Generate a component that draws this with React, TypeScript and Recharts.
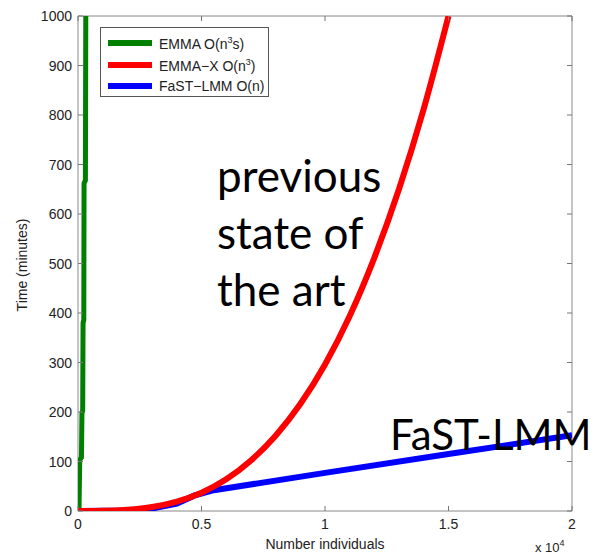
import React from 'react';
import { ComposedChart, Line, XAxis, YAxis, ReferenceArea } from 'recharts';

// EMMA O(n^3 s): shoots up almost immediately, in small steps
const emmaData = [
  { n: 40, t: 0 },
  { n: 70, t: 103 },
  { n: 140, t: 108 },
  { n: 160, t: 198 },
  { n: 190, t: 203 },
  { n: 205, t: 380 },
  { n: 235, t: 386 },
  { n: 245, t: 662 },
  { n: 300, t: 668 },
  { n: 315, t: 1000 },
];

// EMMA-X O(n^3)
const emmaXData = [
  { n: 0, t: 0 },
  { n: 1000, t: 0.3 },
  { n: 2000, t: 2.4 },
  { n: 3000, t: 8 },
  { n: 4000, t: 19 },
  { n: 5000, t: 37 },
  { n: 6000, t: 64 },
  { n: 7000, t: 102 },
  { n: 8000, t: 152 },
  { n: 9000, t: 216 },
  { n: 10000, t: 296 },
  { n: 11000, t: 394 },
  { n: 12000, t: 512 },
  { n: 13000, t: 651 },
  { n: 14000, t: 813 },
  { n: 15000, t: 1000 },
];

// FaST-LMM O(n): hidden under EMMA-X at small n
const fastData = [
  { n: 0, t: 0 },
  { n: 2000, t: 1 },
  { n: 3000, t: 5 },
  { n: 4000, t: 15 },
  { n: 4700, t: 31 },
  { n: 5500, t: 42 },
  { n: 10000, t: 77 },
  { n: 15000, t: 115 },
  { n: 20000, t: 153 },
];

const xTicks = [0, 5000, 10000, 15000, 20000];
const yTicks = [0, 100, 200, 300, 400, 500, 600, 700, 800, 900, 1000];

const GREEN = '#007f00';
const RED = '#ff0000';
const BLUE = '#0000ff';

const LEFT = 78;
const RIGHT = 572;
const TOP = 16;
const BOTTOM = 511;
const TICK_COLOR = '#777';
const FONT = '"Liberation Sans", Arial, sans-serif';

const YTick = (props: any) => {
  const { y, payload } = props;
  return (
    <g>
      <text x={72} y={y} dy={5} textAnchor="end" fontSize={14} fill="#222" fontFamily={FONT}>
        {payload.value}
      </text>
      <line x1={LEFT} x2={LEFT + 5} y1={y} y2={y} stroke={TICK_COLOR} />
      <line x1={RIGHT - 5} x2={RIGHT} y1={y} y2={y} stroke={TICK_COLOR} />
    </g>
  );
};

const XTick = (props: any) => {
  const { x, payload } = props;
  return (
    <g>
      <text x={x} y={529} textAnchor="middle" fontSize={14} fill="#222" fontFamily={FONT}>
        {payload.value / 10000}
      </text>
      <line x1={x} x2={x} y1={BOTTOM} y2={BOTTOM - 5} stroke={TICK_COLOR} />
      <line x1={x} x2={x} y1={TOP} y2={TOP + 5} stroke={TICK_COLOR} />
    </g>
  );
};

const legendItems = [
  { color: GREEN, label: <>EMMA O(n<sup style={{ fontSize: 9 }}>3</sup>s)</> },
  { color: RED, label: <>EMMA−X O(n<sup style={{ fontSize: 9 }}>3</sup>)</> },
  { color: BLUE, label: <>FaST−LMM O(n)</> },
];

const bigText: React.CSSProperties = {
  position: 'absolute',
  fontFamily: 'Lato, "Open Sans", sans-serif',
  color: '#000',
  whiteSpace: 'nowrap',
};

export default function App() {
  return (
    <div style={{ position: 'absolute', left: 0, top: 0, width: 594, height: 554, background: '#fff' }}>
      <ComposedChart width={594} height={554} margin={{ top: TOP, right: 22, left: 18, bottom: 0 }}>
        <XAxis
          type="number"
          dataKey="n"
          domain={[0, 20000]}
          ticks={xTicks}
          height={43}
          axisLine={false}
          tickLine={false}
          tick={<XTick />}
          allowDataOverflow
        />
        <YAxis
          type="number"
          domain={[0, 1000]}
          ticks={yTicks}
          width={60}
          axisLine={false}
          tickLine={false}
          tick={<YTick />}
          allowDataOverflow
        />
        <ReferenceArea x1={0} x2={20000} y1={0} y2={1000} fill="none" stroke="#888" strokeWidth={1} />
        <Line data={emmaData} dataKey="t" stroke={GREEN} strokeWidth={5} dot={false} isAnimationActive={false} type="linear" />
        <Line data={fastData} dataKey="t" stroke={BLUE} strokeWidth={6} dot={false} isAnimationActive={false} type="linear" />
        <Line data={emmaXData} dataKey="t" stroke={RED} strokeWidth={6} dot={false} isAnimationActive={false} type="monotone" />
        <text x={27} y={265} transform="rotate(-90 27 265)" textAnchor="middle" fontSize={14} fill="#222" fontFamily={FONT}>
          Time (minutes)
        </text>
        <text x={325} y={549} textAnchor="middle" fontSize={14} fill="#222" fontFamily={FONT}>
          Number individuals
        </text>
        <text x={535} y={552} fontSize={13} fill="#222" fontFamily={FONT}>
          x 10<tspan dy={-6} fontSize={9}>4</tspan>
        </text>
      </ComposedChart>

      <div
        style={{
          position: 'absolute',
          left: 100,
          top: 27,
          width: 169,
          height: 70,
          border: '1px solid #555',
          background: '#fff',
          fontFamily: FONT,
          fontSize: 14,
          color: '#222',
          boxSizing: 'border-box',
        }}
      >
        {legendItems.map((item, i) => (
          <div
            key={i}
            style={{ position: 'absolute', left: 7, top: [6, 28, 49][i], display: 'flex', alignItems: 'center', height: 18 }}
          >
            <div style={{ width: 44, height: 6, background: item.color, marginRight: 7 }} />
            <span>{item.label}</span>
          </div>
        ))}
      </div>

      <div style={{ ...bigText, left: 217, top: 147, fontSize: 44, lineHeight: '57px' }}>
        previous
        <br />
        state of
        <br />
        the art
      </div>
      <div style={{ ...bigText, left: 390, top: 407, fontSize: 42, lineHeight: '55px' }}>FaST-LMM</div>
    </div>
  );
}
